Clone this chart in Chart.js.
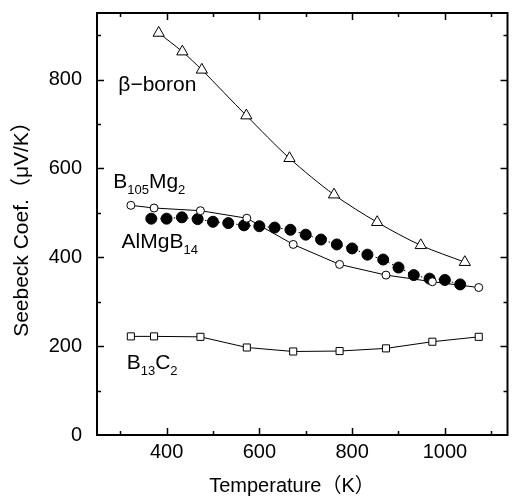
<!DOCTYPE html>
<html>
<head>
<meta charset="utf-8">
<script src="https://cdn.jsdelivr.net/npm/chart.js@4.4.1/dist/chart.umd.min.js"></script>
<style>
  html, body { margin: 0; padding: 0; background: #fff; }
  canvas { display: block; }
</style>
</head>
<body>
<canvas id="chart" width="515" height="504"></canvas>
<script>
// values (Seebeck coefficient, uV/K vs temperature, K)
const betaTemp = [383, 434, 476, 572, 665, 761, 854, 948, 1043]
const betaSeebeck = [905, 863, 822, 719, 623, 541, 479, 427, 389]

const mgTemp = [323, 373, 473, 573, 673, 773, 873, 973, 1073]
const mgSeebeck = [517, 511, 505, 488, 429, 384, 360, 345, 332]

const almgTemp = [367, 400, 433, 467, 500, 533, 567, 600, 633, 667, 700, 733, 767, 800, 833, 867, 900, 933, 967, 1000, 1033]
const almgSeebeck = [487, 487, 490, 486, 480, 477, 472, 470, 467, 462, 451, 440, 429, 420, 406, 395, 377, 360, 352, 349, 339]

const bcTemp = [323, 373, 473, 573, 673, 773, 873, 973, 1073]
const bcSeebeck = [222, 222, 221, 197, 188, 189, 195, 210, 221]

const xTickValues = [400, 600, 800, 1000]
const yTickValues = [0, 200, 400, 600, 800]

const FONT = '"Liberation Sans", Arial, "Noto Sans CJK JP", sans-serif'

const toPoints = (xs, ys) => xs.map((x, i) => ({ x, y: ys[i] }))

// in-plot labels, anchored in data units (left edge, baseline)
const notes = [
  { at: [296, 775], parts: [['β−boron', false]] },
  { at: [285, 557], parts: [['B', false], ['105', true], ['Mg', false], ['2', true]] },
  { at: [303, 420], parts: [['AlMgB', false], ['14', true]] },
  { at: [314, 148], parts: [['B', false], ['13', true], ['C', false], ['2', true]] }
]

const framePlugin = {
  id: 'frame',
  afterDraw(chart) {
    const { ctx, chartArea: a, scales: { x, y } } = chart
    ctx.save()
    ctx.strokeStyle = '#000'
    ctx.lineWidth = 2
    ctx.strokeRect(a.left, a.top, a.right - a.left, a.bottom - a.top)

    // inward ticks on all four sides
    ctx.lineWidth = 1.5
    ctx.beginPath()
    for (let v = 300; v <= 1100; v += 100) {
      const px = Math.round(x.getPixelForValue(v)) + 0.5
      const len = v % 200 === 0 ? 7 : 4
      ctx.moveTo(px, a.bottom); ctx.lineTo(px, a.bottom - len)
      ctx.moveTo(px, a.top); ctx.lineTo(px, a.top + len)
    }
    for (let v = 100; v <= 900; v += 100) {
      const py = Math.round(y.getPixelForValue(v)) + 0.5
      const len = v % 200 === 0 ? 7 : 4
      ctx.moveTo(a.left, py); ctx.lineTo(a.left + len, py)
      ctx.moveTo(a.right, py); ctx.lineTo(a.right - len, py)
    }
    ctx.stroke()

    // labels with subscripts
    ctx.fillStyle = '#000'
    ctx.textBaseline = 'alphabetic'
    ctx.textAlign = 'left'
    notes.forEach(n => {
      let cx = x.getPixelForValue(n.at[0])
      const by = y.getPixelForValue(n.at[1])
      n.parts.forEach(([t, sub]) => {
        ctx.font = (sub ? '13px ' : '21px ') + FONT
        ctx.fillText(t, cx, sub ? by + 6 : by)
        cx += ctx.measureText(t).width
      })
    })

    // x axis title
    ctx.font = '20px ' + FONT
    ctx.textAlign = 'center'
    ctx.fillText('Temperature（K）', 292, 492)
    ctx.restore()
  }
}

const noPad = s => { s.paddingTop = 0; s.paddingBottom = 0; s.paddingLeft = 0; s.paddingRight = 0 }

new Chart(document.getElementById('chart'), {
  type: 'scatter',
  data: {
    datasets: [
      {
        label: 'beta-boron',
        data: toPoints(betaTemp, betaSeebeck),
        showLine: true,
        tension: 0.3,
        borderColor: '#000',
        borderWidth: 1,
        pointStyle: 'triangle',
        pointRadius: 6.5,
        pointBackgroundColor: '#fff',
        pointBorderColor: '#000',
        pointBorderWidth: 1
      },
      {
        label: 'B105Mg2',
        data: toPoints(mgTemp, mgSeebeck),
        showLine: true,
        borderColor: '#000',
        borderWidth: 1,
        pointStyle: 'circle',
        pointRadius: 4,
        pointBackgroundColor: '#fff',
        pointBorderColor: '#000',
        pointBorderWidth: 1
      },
      {
        label: 'AlMgB14',
        data: toPoints(almgTemp, almgSeebeck),
        showLine: true,
        borderColor: '#000',
        borderWidth: 1,
        borderDash: [1.5, 3],
        pointStyle: 'circle',
        pointRadius: 5.5,
        pointBackgroundColor: '#000',
        pointBorderColor: '#000',
        pointBorderWidth: 1
      },
      {
        label: 'B13C2',
        data: toPoints(bcTemp, bcSeebeck),
        showLine: true,
        borderColor: '#000',
        borderWidth: 1,
        pointStyle: 'rect',
        pointRadius: 5,
        pointBackgroundColor: '#fff',
        pointBorderColor: '#000',
        pointBorderWidth: 1
      }
    ]
  },
  options: {
    responsive: false,
    animation: false,
    devicePixelRatio: 1,
    layout: { padding: { top: 13, right: 2, left: 0, bottom: 0 } },
    plugins: { legend: { display: false }, tooltip: { enabled: false } },
    scales: {
      x: {
        type: 'linear',
        min: 250,
        max: 1135,
        grid: { display: false, drawTicks: false },
        border: { display: false },
        afterBuildTicks: s => { s.ticks = xTickValues.map(value => ({ value })) },
        afterFit: s => { s.height = 69; noPad(s) },
        ticks: { color: '#000', padding: 5, font: { family: FONT, size: 20 }, callback: v => String(v) }
      },
      y: {
        type: 'linear',
        min: 0,
        max: 950,
        grid: { display: false, drawTicks: false },
        border: { display: false },
        afterBuildTicks: s => { s.ticks = yTickValues.map(value => ({ value })) },
        afterFit: s => { s.width = 97; noPad(s) },
        ticks: { color: '#000', padding: 15, font: { family: FONT, size: 20 }, callback: v => String(v) },
        title: {
          display: true,
          text: 'Seebeck Coef.（μV/K）',
          color: '#000',
          padding: { top: 10, bottom: 0 },
          font: { family: FONT, size: 21 }
        }
      }
    }
  },
  plugins: [framePlugin]
})
</script>
</body>
</html>
